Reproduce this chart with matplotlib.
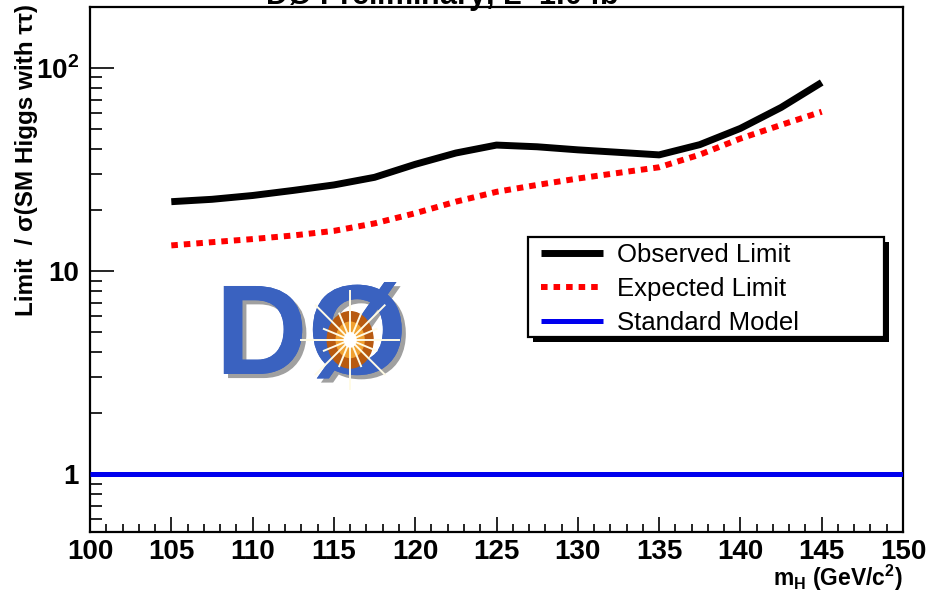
import matplotlib
matplotlib.use("Agg")
import matplotlib.pyplot as plt
import matplotlib.patheffects as pe
from matplotlib.patches import Rectangle, Ellipse
from matplotlib.ticker import FixedLocator, NullFormatter, FixedFormatter
import numpy as np

# Higgs mass points (GeV/c^2)
mass = [105, 107.5, 110, 112.5, 115, 117.5, 120, 122.5, 125, 127.5,
        130, 132.5, 135, 137.5, 140, 142.5, 145]
# limit / sigma(SM)
observed = [22.0, 22.6, 23.6, 25.0, 26.6, 29.0, 33.6, 38.2, 41.8, 41.0,
            39.6, 38.5, 37.4, 42.0, 50.5, 64.0, 85.0]
expected = [13.4, 13.9, 14.4, 15.0, 15.8, 17.2, 19.3, 22.0, 24.6, 26.6,
            28.6, 30.5, 32.5, 37.5, 45.0, 52.5, 61.0]
sm_x = [100, 150]
sm_y = [1, 1]

xticks = [100, 105, 110, 115, 120, 125, 130, 135, 140, 145, 150]
yticks = [1, 10, 100]
ytick_labels = ["1", "10", r"10$^{\mathbf{2}}$"]

plt.rcParams["font.family"] = ["Liberation Sans", "DejaVu Sans"]
plt.rcParams["mathtext.fontset"] = "custom"
plt.rcParams["mathtext.rm"] = "Liberation Sans"
plt.rcParams["mathtext.bf"] = "Liberation Sans:bold"

W, H = 927, 593
fig = plt.figure(figsize=(W / 100, H / 100), dpi=100)
ax = fig.add_axes([90 / W, 61 / H, 813 / W, 525 / H])

l_sm, = ax.plot(sm_x, sm_y, color="#0000ee", lw=3.6, solid_capstyle="butt", zorder=3)
l_exp, = ax.plot(mass, expected, color="#ff0000", lw=4.3, linestyle=(0, (1.1, 1.0)),
                 dash_capstyle="butt", zorder=4)
l_obs, = ax.plot(mass, observed, color="black", lw=5.0, solid_capstyle="butt",
                 solid_joinstyle="round", zorder=5)

ax.set_yscale("log")
ax.set_xlim(100, 150)
ax.set_ylim(0.52, 200)

# ROOT-like ticks: inward, bottom/left only
ax.xaxis.set_major_locator(FixedLocator(xticks))
ax.xaxis.set_minor_locator(FixedLocator(np.arange(100, 151, 1)))
ax.yaxis.set_major_locator(FixedLocator(yticks))
ax.yaxis.set_major_formatter(FixedFormatter(ytick_labels))
minor_y = [m * d for d in (0.1, 1, 10, 100) for m in range(2, 10)]
ax.yaxis.set_minor_locator(FixedLocator(minor_y))
ax.yaxis.set_minor_formatter(NullFormatter())
ax.tick_params(which="major", axis="x", direction="in", length=11, width=1.2,
               top=False, pad=5)
ax.tick_params(which="minor", axis="x", direction="in", length=5.5, width=1.2, top=False)
ax.tick_params(which="major", axis="y", direction="in", length=17, width=1.2,
               right=False, pad=8)
ax.tick_params(which="minor", axis="y", direction="in", length=8.5, width=1.2, right=False)
for lab in ax.get_xticklabels() + ax.get_yticklabels():
    lab.set_fontweight("bold")
    lab.set_fontsize(20)
for s in ax.spines.values():
    s.set_linewidth(1.6)

ax.set_xlabel(r"m$_{\mathbf{H}}$ (GeV/c$^{\mathbf{2}}$)", fontsize=16.5, fontweight="bold",
              loc="right")
ax.xaxis.set_label_coords(1.0, -54 / 525)
ax.xaxis.label.set_va("baseline")
ax.set_ylabel("Limit  / σ(SM Higgs with ττ)", fontsize=17.5, fontweight="bold",
              loc="top")
ax.yaxis.set_label_coords(-52 / 813, 1.005)

# title cut off at the top edge
fig.text(0.49, 1 - 5 / H, "DØ Preliminary, L=1.0 fb$^{-1}$", ha="center",
         va="baseline", fontsize=22, fontweight="bold")

# DØ logo approximation
lx, ly = 0.272, 0.364
ax.text(lx, ly, "DØ", transform=ax.transAxes, ha="center", va="center",
        fontsize=92, fontweight="bold", color="#3a62c0",
        path_effects=[pe.withSimplePatchShadow(offset=(3, -3), shadow_rgbFace="#888888", alpha=0.8),
                      pe.Normal()], zorder=2)
bx, by = 0.32, 0.366
ax.add_patch(Ellipse((bx, by), 0.058, 0.11, transform=ax.transAxes,
                     facecolor="#b85a10", edgecolor="none", zorder=3))
ax.add_patch(Ellipse((bx, by), 0.036, 0.07, transform=ax.transAxes,
                     facecolor="#f0a030", edgecolor="none", zorder=3))
ang = np.linspace(0, 2 * np.pi, 16, endpoint=False)
for i, a in enumerate(ang):
    r = 0.06 if i % 2 == 0 else 0.035
    ax.plot([bx, bx + r * np.cos(a)], [by, by + r * 1.55 * np.sin(a)],
            transform=ax.transAxes, color="#fffbe6", lw=1.4, zorder=4)
ax.add_patch(Ellipse((bx, by), 0.016, 0.03, transform=ax.transAxes,
                     facecolor="#ffffff", edgecolor="none", zorder=4))

# ROOT-style legend box with shadow (fixed size)
bx0, bx1 = (528 - 90) / 813, (884 - 90) / 813
by0, by1 = (532 - 337) / 525, (532 - 237) / 525
sh = 5 / 813, 5 / 525
ax.add_patch(Rectangle((bx0 + sh[0], by0 - sh[1]), bx1 - bx0, by1 - by0,
                       transform=ax.transAxes, facecolor="black", edgecolor="none",
                       zorder=9, clip_on=False))
ax.add_patch(Rectangle((bx0, by0), bx1 - bx0, by1 - by0, transform=ax.transAxes,
                       facecolor="white", edgecolor="black", lw=1.6, zorder=9.5,
                       clip_on=False))
leg = ax.legend([l_obs, l_exp, l_sm], ["Observed Limit", "Expected Limit", "Standard Model"],
                loc="upper left", bbox_to_anchor=((541 - 90) / 813, (532 - 243) / 525),
                frameon=False, fontsize=18.5, handlelength=2.4,
                handletextpad=0.55, borderpad=0.0, labelspacing=0.38,
                borderaxespad=0)
leg.set_zorder(10)

fig.savefig("out.png", dpi=100, facecolor="white")
